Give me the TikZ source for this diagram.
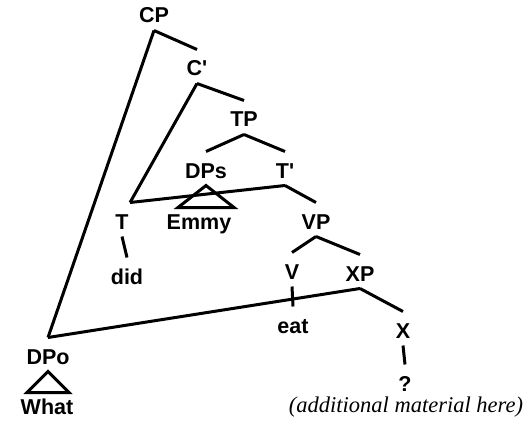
\documentclass[tikz,border=0pt]{standalone}
\usepackage{fontspec}
\newfontfamily\treefont{Liberation Sans}
\newfontfamily\notefont{Liberation Serif}
\usepackage{tikz}
\usetikzlibrary{positioning}

\begin{document}
\begin{tikzpicture}[x=1pt,y=-1pt,line width=3pt,
    lbl/.style={font=\treefont\bfseries\fontsize{21.5}{25}\selectfont,
                inner sep=0pt,text height=25pt,text depth=6pt,anchor=base}]
  \useasboundingbox (0,0) rectangle (529,422);
  % tree nodes
  \node[lbl] (cp)   at (154,23)  {CP};
  \node[lbl] (cbar) at (197,76)  {C\textquotesingle};
  \node[lbl] (tp)   at (244,127) {TP};
  \node[lbl] (dps)  at (206,178) {DPs};
  \node[lbl] (tbar) at (285,178) {T\textquotesingle};
  \node[lbl] (t)    at (122,229) {T};
  \node[lbl] (emmy) at (199,229) {Emmy};
  \node[lbl] (did)  at (127,284) {did};
  \node[lbl] (vp)   at (316,229) {VP};
  \node[lbl] (v)    at (292,279) {V};
  \node[lbl] (xp)   at (360,281) {XP};
  \node[lbl] (eat)  at (293,333) {eat};
  \node[lbl] (x)    at (403,338) {X};
  \node[lbl] (q)    at (405,391) {?};
  \node[lbl] (dpo)  at (48,364)  {DPo};
  \node[lbl] (what) at (47,414)  {What};
  \node[font=\notefont\itshape\fontsize{22.5}{26}\selectfont,inner sep=0pt,anchor=base]
        (note) at (406,412) {(additional material here)};
  % branches
  \draw (cp.south) -- (cbar.north);
  \draw (cp.south) -- (dpo.north);
  \draw (cbar.south) -- (tp.north);
  \draw (cbar.south) -- (t.north east);
  \draw (tp.south) -- (dps.north);
  \draw (tp.south) -- (tbar.north);
  \draw (tbar.south) -- (t.north east);
  \draw (tbar.south) -- (vp.north);
  \draw (t.south) -- (did.north);
  \draw (vp.south) -- (v.north);
  \draw (vp.south) -- (xp.north);
  \draw (v.south) -- (eat.north);
  \draw (xp.south) -- (x.north);
  \draw (xp.south) -- (dpo.north);
  \draw (x.south) -- (q.north);
  % triangles
  \draw (dps.south) -- ++(-28,22) -- ++(56,0) -- cycle;
  \draw (dpo.south) -- ++(-21,21) -- ++(42,0) -- cycle;
\end{tikzpicture}
\end{document}
